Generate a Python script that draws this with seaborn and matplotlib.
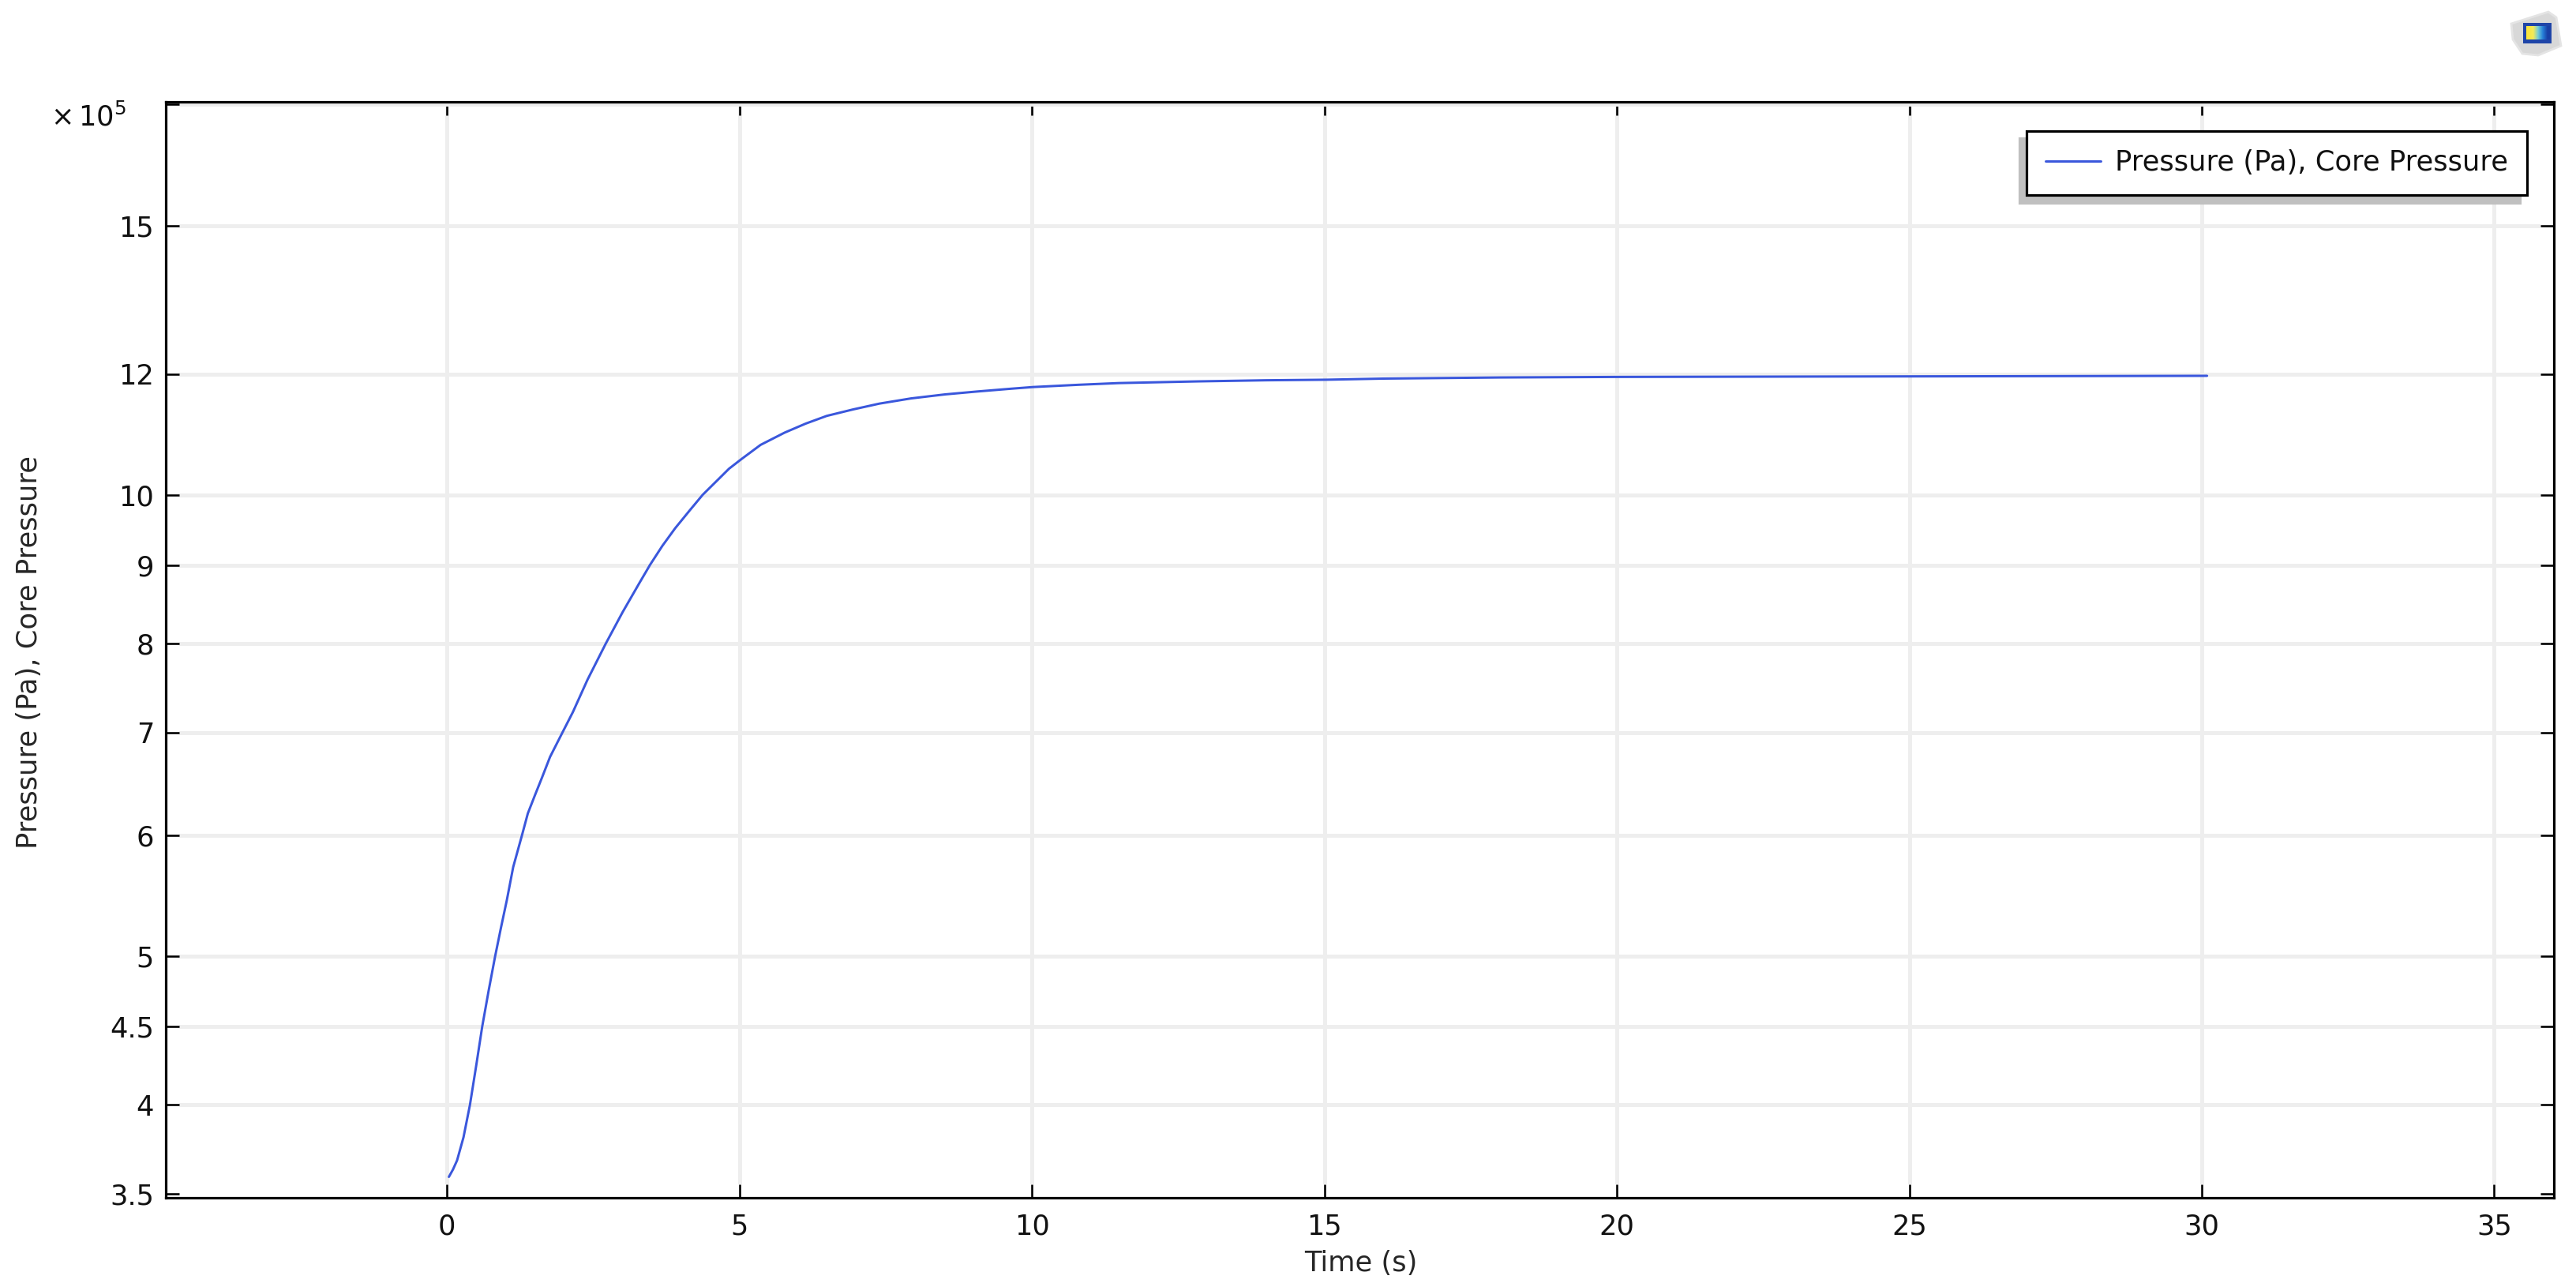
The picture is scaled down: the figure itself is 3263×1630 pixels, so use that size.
import matplotlib
matplotlib.use("Agg")
import matplotlib.pyplot as plt
from matplotlib.patches import Polygon, Rectangle
from matplotlib.transforms import Bbox
from matplotlib.ticker import FixedLocator, FixedFormatter, NullLocator
import numpy as np
import pandas as pd
import seaborn as sns

# Data
time_s = [0.03, 0.10, 0.17, 0.28, 0.39, 0.50, 0.60, 0.71, 0.82, 0.92, 1.02, 1.13, 1.28, 1.38, 1.50, 1.62, 1.76,
          1.97, 2.15, 2.40, 2.71, 3.00, 3.29, 3.47, 3.68, 3.90, 4.15, 4.37, 4.62, 4.82, 5.03, 5.36, 5.77,
          6.13, 6.49, 6.94, 7.39, 7.93, 8.51, 9.05, 9.64, 10.02, 10.80, 11.48, 12.83, 14.00, 15.03, 16.00,
          18.00, 20.00, 25.00, 30.09]
pressure_e5 = [3.59, 3.63, 3.68, 3.81, 4.00, 4.25, 4.50, 4.75, 5.00, 5.22, 5.44, 5.72, 6.00, 6.20, 6.37, 6.54, 6.75,
               7.00, 7.22, 7.58, 8.00, 8.39, 8.77, 9.01, 9.27, 9.52, 9.78, 10.01, 10.23, 10.41, 10.56, 10.79, 10.99,
               11.14, 11.27, 11.38, 11.48, 11.57, 11.64, 11.69, 11.74, 11.77, 11.81, 11.84, 11.87, 11.89, 11.90, 11.92,
               11.94, 11.95, 11.96, 11.97]
x_ticks = [0, 5, 10, 15, 20, 25, 30, 35]
y_ticks = [3.5, 4, 4.5, 5, 6, 7, 8, 9, 10, 12, 15, 18]
y_tick_labels = ["3.5", "4", "4.5", "5", "6", "7", "8", "9", "10", "12", "15", ""]
series_label = "Pressure (Pa), Core Pressure"
x_label = "Time (s)"
y_label = "Pressure (Pa), Core Pressure"

W, H = 3263, 1630
L, R, T, B = 210, 3235, 129, 1517
FS = 25.4
PX = 0.72

sns.set_style("white")
plt.rcParams["font.family"] = ["DejaVu Sans"]
plt.rcParams["mathtext.fontset"] = "dejavusans"
plt.rcParams["text.color"] = "#111111"

fig = plt.figure(figsize=(W / 100, H / 100), dpi=100, facecolor="white")
ax = fig.add_axes([L / W, 1 - B / H, (R - L) / W, (B - T) / H])

df = pd.DataFrame({"t": time_s, "p": pressure_e5})
sns.lineplot(data=df, x="t", y="p", ax=ax, color="#3a57dc", linewidth=3 * PX,
             errorbar=None, label=series_label, zorder=3)

ax.set_yscale("log")
ax.set_xlim(-4.81, 36.02)
ax.set_ylim(3.479, 18.07)
ax.xaxis.set_major_locator(FixedLocator(x_ticks))
ax.yaxis.set_major_locator(FixedLocator(y_ticks))
ax.yaxis.set_major_formatter(FixedFormatter(y_tick_labels))
ax.yaxis.set_minor_locator(NullLocator())
ax.xaxis.set_minor_locator(NullLocator())

ax.grid(True, color="#eeeeee", linewidth=5 * PX, zorder=1)
ax.set_axisbelow(True)
clip = Bbox([[L + 17, H - B + 17], [R - 17, H - T - 2]])
for gl in ax.get_xgridlines() + ax.get_ygridlines():
    gl.set_clip_box(clip)

ax.tick_params(axis="both", which="major", direction="in", length=17 * PX, width=2.6 * PX,
               color="black", labelsize=FS, labelcolor="#111111",
               top=True, right=True, left=True, bottom=True)
ax.tick_params(axis="y", pad=15 * PX)
ax.tick_params(axis="x", pad=20 * PX)
for s in ax.spines.values():
    s.set_visible(True)
    s.set_color("black")
    s.set_linewidth(3.2 * PX)

ax.set_xlabel(x_label, fontsize=FS)
ax.set_ylabel(y_label, fontsize=FS)
ax.yaxis.set_label_coords((54 - L) / (R - L), 1 - (826 - T) / (B - T))
ax.xaxis.set_label_coords((1724 - L) / (R - L), 1 - (1610 - T) / (B - T))
ax.xaxis.label.set_verticalalignment("baseline")

leg = ax.legend(loc="upper left", bbox_to_anchor=((2566.7 - L) / (R - L), 1 - (165.5 - T) / (B - T)),
                borderaxespad=0, fontsize=FS, fancybox=False, framealpha=1, facecolor="white",
                edgecolor="black", borderpad=0.68, handlelength=2.0, handletextpad=0.5,
                shadow={"ox": -6.5, "oy": -6.5, "facecolor": "#c0c0c0", "edgecolor": "#c0c0c0", "alpha": 1})
leg.get_frame().set_linewidth(3.2 * PX)

fig.text(64 / W, 1 - 160 / H, r"$\times\,10^{5}$", fontsize=FS, va="baseline", ha="left", color="#111111")

# Small application logo, top right
logo = fig.add_axes([3150 / W, 1 - 90 / H, 113 / W, 90 / H])
logo.set_xlim(3150, 3263)
logo.set_ylim(90, 0)
logo.axis("off")
logo.add_patch(Polygon([[3181, 30], [3228, 15], [3238, 22], [3244, 58], [3215, 70], [3195, 68], [3183, 50]],
                       closed=True, facecolor="#d8d8d8", edgecolor="#e4e4e4", linewidth=2))
logo.add_patch(Rectangle((3196, 29), 36, 26, facecolor="#1f45a8", edgecolor="none"))
grad = np.array([[[0.98, 0.90, 0.25], [0.95, 0.92, 0.35], [0.45, 0.80, 0.85], [0.15, 0.50, 0.85], [0.10, 0.25, 0.65]]])
logo.imshow(grad, extent=(3200, 3230, 50, 33), aspect="auto", interpolation="bilinear", zorder=3)
logo.set_xlim(3150, 3263)
logo.set_ylim(90, 0)

fig.savefig("out.png", dpi=100, facecolor="white")
